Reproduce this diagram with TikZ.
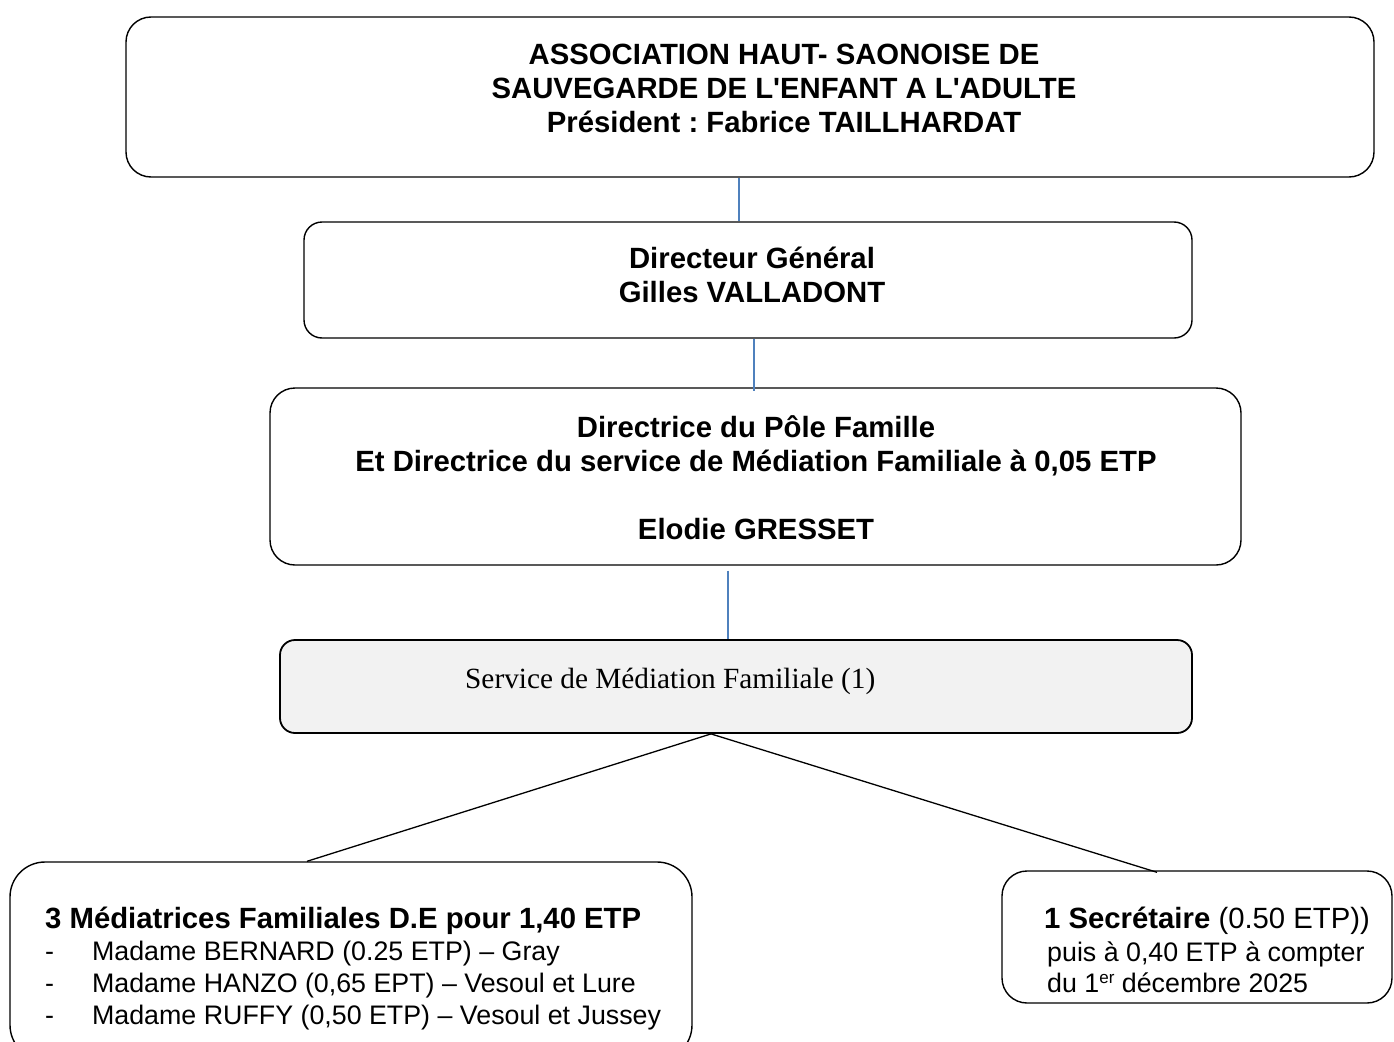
\documentclass[tikz,border=0pt]{standalone}
\usepackage{fontspec}
\setmainfont{Liberation Sans}
\newfontfamily\timesf{Liberation Serif}
\frenchspacing
\begin{document}
\begin{tikzpicture}[x=1pt,y=-1pt,
  box/.style={draw=black,line width=1.4pt,inner sep=0pt},
  bt/.style={font=\fontsize{29.3}{34}\selectfont\bfseries,align=center,inner sep=0pt},
  rt/.style={font=\fontsize{26.8}{32}\selectfont,inner sep=0pt,anchor=base west},
  bl/.style={draw=blueline,line width=1.3pt},
  kl/.style={draw=black,line width=1.3pt}]
\definecolor{blueline}{HTML}{4F81BD}
\definecolor{greyfill}{HTML}{F2F2F2}
\clip (0,0) rectangle (1394,1041);
\fill[white] (0,0) rectangle (1394,1041);
% boxes
\node[box,rounded corners=25pt,minimum width=1248pt,minimum height=160pt] (assoc) at (750,97) {};
\node[box,rounded corners=18pt,minimum width=888pt,minimum height=116pt] (dg) at (748,280) {};
\node[box,rounded corners=25pt,minimum width=971pt,minimum height=177pt] (pole) at (755.5,476.5) {};
\node[box,rounded corners=15pt,fill=greyfill,line width=1.8pt,minimum width=912pt,minimum height=93pt] (serv) at (736,686.5) {};
\node[box,rounded corners=35pt,minimum width=682pt,minimum height=198pt] (med) at (351,961) {};
\node[box,rounded corners=25pt,minimum width=390pt,minimum height=132pt] (sec) at (1197,937) {};
% texts
\node[bt] (assoct) at (784,88) {ASSOCIATION HAUT- SAONOISE DE\\SAUVEGARDE DE L\textquotesingle ENFANT A L\textquotesingle ADULTE\\Président : Fabrice TAILLHARDAT};
\node[bt] (dgt) at (752,275) {Directeur Général\\Gilles VALLADONT};
\node[bt] (polet) at (756,478) {Directrice du Pôle Famille\\Et Directrice du service de Médiation Familiale à 0,05 ETP\\[34pt]Elodie GRESSET};
\node[inner sep=0pt,anchor=west,font=\timesf\fontsize{29.3}{34}\selectfont] (servt) at (465,681) {Service de Médiation Familiale (1)};
\node[rt,font=\fontsize{29.3}{34}\selectfont\bfseries] (m0) at (45,928) {3 Médiatrices Familiales D.E pour 1,40 ETP};
\node[rt] (m1) at (45,960) {-\hspace{38pt}Madame BERNARD (0.25 ETP) -- Gray};
\node[rt] (m2) at (45,992) {-\hspace{38pt}Madame HANZO (0,65 EPT) -- Vesoul et Lure};
\node[rt] (m3) at (45,1024) {-\hspace{38pt}Madame RUFFY (0,50 ETP) -- Vesoul et Jussey};
\node[rt] (s1) at (1044,928) {\fontsize{29.3}{34}\selectfont\textbf{1 Secrétaire} (0.50 ETP))};
\node[rt] (s2) at (1047,961) {puis à 0,40 ETP à compter};
\node[rt] (s3) at (1047,992) {du 1\raisebox{9pt}{\fontsize{17}{17}\selectfont er} décembre 2025};
% connectors
\draw[bl] ([xshift=-11pt]assoc.south) -- ([xshift=-9pt]dg.north);
\draw[bl] ([xshift=6pt]dg.south) -- ([xshift=-1.5pt,yshift=-4pt]pole.north);
\draw[bl] ([xshift=-27.5pt,yshift=-5pt]pole.south) -- ([xshift=-8pt]serv.north);
\coordinate (fork) at ([xshift=-25pt]serv.south);
\draw[kl] (fork) -- ([xshift=-44pt]med.north);
\draw[kl] (fork) -- ([xshift=-40pt,yshift=-2pt]sec.north);
\end{tikzpicture}
\end{document}
